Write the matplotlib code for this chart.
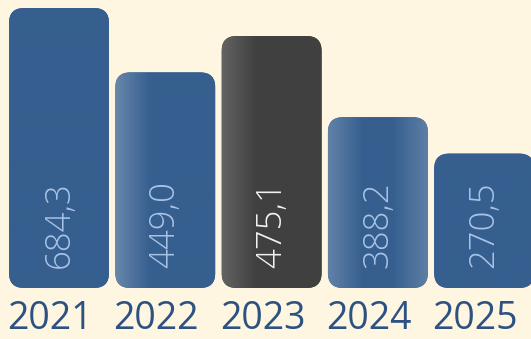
import numpy as np
import matplotlib
matplotlib.use("Agg")
import matplotlib.pyplot as plt
from matplotlib.patches import FancyBboxPatch
from matplotlib.colors import to_rgb

# data
years = ["2021", "2022", "2023", "2024", "2025"]
labels = ["684,3", "449,0", "475,1", "388,2", "270,5"]
# bar heights as drawn (relative to the tallest bar = 100)
heights = [100, 77, 90, 61, 48]

# styling per bar: base colour, left/right highlight strength, label colour
base_colors = ["#365F8F", "#365F8F", "#404040", "#365F8F", "#365F8F"]
left_glow = [0.0, 0.25, 0.18, 0.22, 0.0]
right_glow = [0.0, 0.0, 0.0, 0.2, 0.0]
label_colors = ["#A9C3E6", "#A9C3E6", "#F2F2F2", "#A9C3E6", "#A9C3E6"]

BG = "#FFF6E2"
W, H, DPI = 5.31, 3.39, 100

fig = plt.figure(figsize=(W, H), dpi=DPI, facecolor=BG)
ax = fig.add_axes([0, 0, 1, 1])
ax.set_facecolor(BG)

# pixel geometry
px_per_x = 106.3
px_per_y = 2.8
xmin = -59 / px_per_x
ax.set_xlim(xmin, xmin + W * DPI / px_per_x)
ax.set_ylim(-51 / px_per_y, (H * DPI - 51) / px_per_y)
ax.axis("off")

bar_w = 100 / px_per_x
radius_px = 15
aspect = px_per_x / px_per_y


def gradient(n, c, lg, rg):
    c = np.array(to_rgb(c))
    t = np.linspace(0, 1, n)
    w = lg * np.clip(1 - t / 0.35, 0, 1) + rg * np.clip((t - 0.65) / 0.35, 0, 1)
    return c[None, :] * (1 - w[:, None]) + np.ones(3)[None, :] * w[:, None]


for i, (h, lab) in enumerate(zip(heights, labels)):
    x0 = i - bar_w / 2
    patch = FancyBboxPatch((x0, 0), bar_w, h,
                           boxstyle=f"round,pad=0,rounding_size={radius_px / px_per_x}",
                           mutation_aspect=aspect, facecolor=base_colors[i],
                           edgecolor="none", zorder=2)
    ax.add_patch(patch)
    img = gradient(200, base_colors[i], left_glow[i], right_glow[i])[None, :, :]
    im = ax.imshow(img, extent=(x0, x0 + bar_w, 0, h), aspect="auto",
                   interpolation="bilinear", zorder=3)
    im.set_clip_path(patch)
    ax.text(i, 20 / px_per_y, lab, rotation=90, ha="center", va="bottom",
            color=label_colors[i], fontsize=25, family="Open Sans",
            fontweight="light", zorder=4)
    ax.text(i - 9 / px_per_x, -50 / px_per_y, years[i], ha="center",
            va="bottom", color="#2C5282", fontsize=27, family="Open Sans",
            zorder=4)

fig.savefig("out.png", dpi=DPI, facecolor=BG)
